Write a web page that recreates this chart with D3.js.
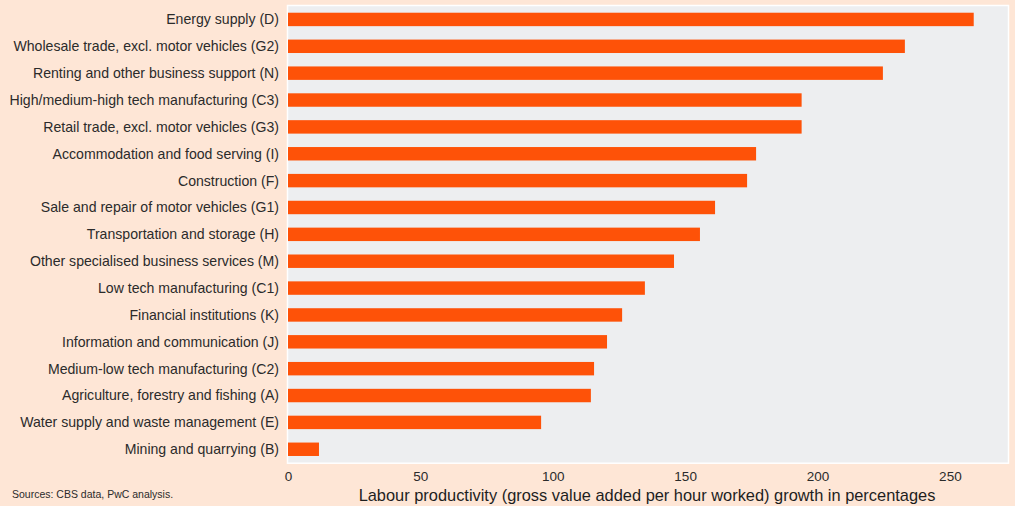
<!DOCTYPE html>
<html>
<head>
<meta charset="utf-8">
<script src="https://cdn.jsdelivr.net/npm/d3@7"></script>
<style>
  html, body { margin: 0; padding: 0; background: #fee6d6; }
  svg { display: block; font-family: "Liberation Sans", Arial, sans-serif; }
</style>
</head>
<body>
<svg id="chart" width="1015" height="506"></svg>
<script>
// Sectors, from the top of the chart down
const sectors = [
  "Energy supply (D)",
  "Wholesale trade, excl. motor vehicles (G2)",
  "Renting and other business support (N)",
  "High/medium-high tech manufacturing (C3)",
  "Retail trade, excl. motor vehicles (G3)",
  "Accommodation and food serving (I)",
  "Construction (F)",
  "Sale and repair of motor vehicles (G1)",
  "Transportation and storage (H)",
  "Other specialised business services (M)",
  "Low tech manufacturing (C1)",
  "Financial institutions (K)",
  "Information and communication (J)",
  "Medium-low tech manufacturing (C2)",
  "Agriculture, forestry and fishing (A)",
  "Water supply and waste management (E)",
  "Mining and quarrying (B)"
];

// Labour productivity growth, %
const growth = [259, 233, 224.7, 194, 194, 176.8, 173.4, 161.3, 155.6, 145.8,
                134.8, 126.2, 120.5, 115.6, 114.4, 95.6, 11.7];

const xTicks = [0, 50, 100, 150, 200, 250];
const xTitle = "Labour productivity (gross value added per hour worked) growth in percentages";
const sourceNote = "Sources: CBS data, PwC analysis.";

const svg = d3.select("#chart");
const plot = { left: 288, right: 1008, top: 6, bottom: 462.7 };

const x = d3.scaleLinear()
  .domain([0, d3.max(growth) * 1.05])
  .range([plot.left, plot.right]);

const y = d3.scaleBand()
  .domain(sectors)
  .range([plot.top, plot.bottom])
  .paddingInner(0.5)
  .paddingOuter(0.25);

// plot panel with a thin white frame
svg.append("rect")
  .attr("x", plot.left - 0.5)
  .attr("y", plot.top - 0.5)
  .attr("width", plot.right - plot.left + 1)
  .attr("height", plot.bottom - plot.top + 1)
  .attr("fill", "#edeef0")
  .attr("stroke", "#ffffff")
  .attr("stroke-width", 1.5);

// bars
svg.append("g")
  .selectAll("rect")
  .data(sectors)
  .join("rect")
  .attr("x", x(0))
  .attr("y", d => y(d))
  .attr("width", (d, i) => x(growth[i]) - x(0))
  .attr("height", y.bandwidth())
  .attr("fill", "#fe5208");

// y axis labels
const yAxis = svg.append("g")
  .attr("transform", `translate(${plot.left},0)`)
  .call(d3.axisLeft(y).tickSize(0).tickPadding(9));
yAxis.select(".domain").remove();
yAxis.selectAll("text")
  .attr("fill", "#2b2b2b")
  .attr("dy", "0.35em")
  .style("font-size", "14.1px");

// x axis labels
const xAxis = svg.append("g")
  .attr("transform", `translate(0,${plot.bottom})`)
  .call(d3.axisBottom(x).tickValues(xTicks).tickSize(0).tickPadding(9).tickFormat(d3.format("d")));
xAxis.select(".domain").remove();
xAxis.selectAll("text")
  .attr("fill", "#2b2b2b")
  .style("font-size", "13.5px");

// axis title
svg.append("text")
  .attr("x", (plot.left + plot.right) / 2 - 1)
  .attr("y", 500.5)
  .attr("text-anchor", "middle")
  .attr("fill", "#1e1e1e")
  .style("font-size", "16.4px")
  .text(xTitle);

// source note
svg.append("text")
  .attr("x", 12)
  .attr("y", 498)
  .attr("fill", "#2b2b2b")
  .style("font-size", "10.5px")
  .text(sourceNote);
</script>
</body>
</html>
